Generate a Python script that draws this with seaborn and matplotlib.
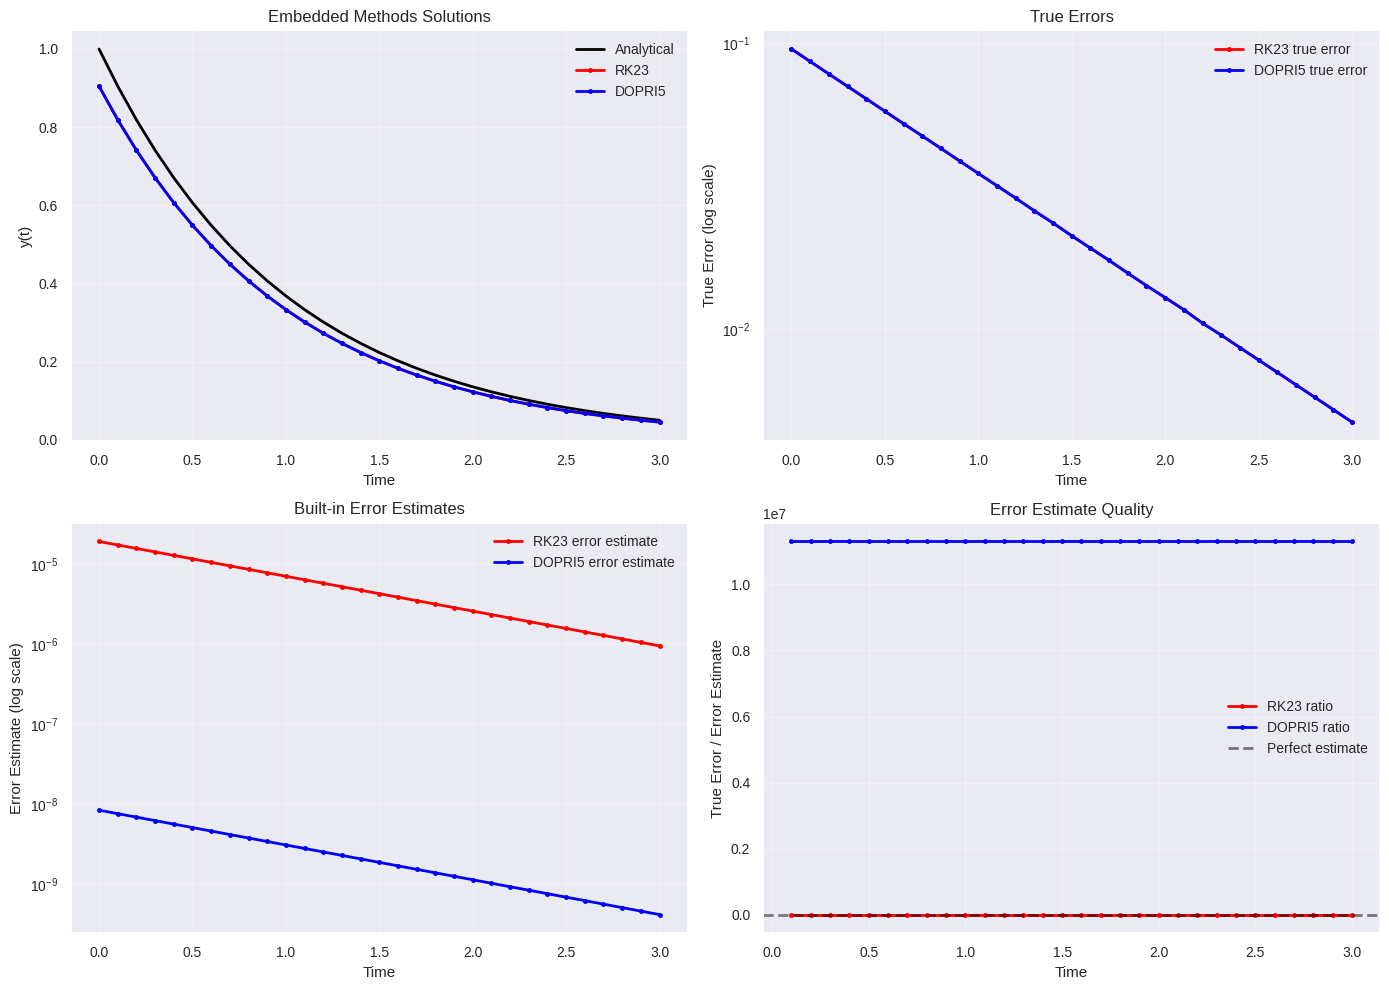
import matplotlib
matplotlib.use("Agg")
import matplotlib.pyplot as plt
import seaborn as sns
import numpy as np

t = [0.0, 0.1, 0.2, 0.3, 0.4, 0.5, 0.6, 0.7, 0.8, 0.9, 1.0,
     1.1, 1.2, 1.3, 1.4, 1.5, 1.6, 1.7, 1.8, 1.9, 2.0,
     2.1, 2.2, 2.3, 2.4, 2.5, 2.6, 2.7, 2.8, 2.9, 3.0]

y_analytical = [1.0000, 0.9048, 0.8187, 0.7408, 0.6703, 0.6065, 0.5488, 0.4966, 0.4493, 0.4066, 0.3679,
                0.3329, 0.3012, 0.2725, 0.2466, 0.2231, 0.2019, 0.1827, 0.1653, 0.1496, 0.1353,
                0.1225, 0.1108, 0.1003, 0.0907, 0.0821, 0.0743, 0.0672, 0.0608, 0.0550, 0.0498]

y_rk23 = [0.9048, 0.8187, 0.7408, 0.6703, 0.6065, 0.5488, 0.4966, 0.4493, 0.4066, 0.3679, 0.3329,
          0.3012, 0.2725, 0.2466, 0.2231, 0.2019, 0.1827, 0.1653, 0.1496, 0.1353, 0.1225,
          0.1108, 0.1003, 0.0907, 0.0821, 0.0743, 0.0672, 0.0608, 0.0550, 0.0498, 0.0450]

y_dopri5 = [0.9048, 0.8187, 0.7408, 0.6703, 0.6065, 0.5488, 0.4966, 0.4493, 0.4066, 0.3679, 0.3329,
            0.3012, 0.2725, 0.2466, 0.2231, 0.2019, 0.1827, 0.1653, 0.1496, 0.1353, 0.1225,
            0.1108, 0.1003, 0.0907, 0.0821, 0.0743, 0.0672, 0.0608, 0.0550, 0.0498, 0.0450]

err_rk23 = [0.0952, 0.0861, 0.0779, 0.0705, 0.0638, 0.0577, 0.0522, 0.0473, 0.0428, 0.0387, 0.0350,
            0.0317, 0.0287, 0.0259, 0.0235, 0.0212, 0.0192, 0.0174, 0.0157, 0.0142, 0.0129,
            0.0117, 0.0105, 0.00954, 0.00863, 0.00781, 0.00707, 0.00640, 0.00579, 0.00524, 0.00474]

err_dopri5 = [0.0952, 0.0861, 0.0779, 0.0705, 0.0638, 0.0577, 0.0522, 0.0473, 0.0428, 0.0387, 0.0350,
              0.0317, 0.0287, 0.0259, 0.0235, 0.0212, 0.0192, 0.0174, 0.0157, 0.0142, 0.0129,
              0.0117, 0.0105, 0.00954, 0.00863, 0.00781, 0.00707, 0.00640, 0.00579, 0.00524, 0.00474]

est_rk23 = [1.900e-5, 1.719e-5, 1.556e-5, 1.408e-5, 1.274e-5, 1.152e-5, 1.043e-5, 9.435e-6, 8.537e-6, 7.725e-6, 6.990e-6,
            6.325e-6, 5.723e-6, 5.178e-6, 4.685e-6, 4.239e-6, 3.836e-6, 3.471e-6, 3.141e-6, 2.842e-6, 2.571e-6,
            2.327e-6, 2.105e-6, 1.906e-6, 1.723e-6, 1.560e-6, 1.412e-6, 1.277e-6, 1.155e-6, 1.045e-6, 9.46e-7]

est_dopri5 = [8.420e-9, 7.618e-9, 6.894e-9, 6.238e-9, 5.644e-9, 5.107e-9, 4.621e-9, 4.181e-9, 3.783e-9, 3.424e-9, 3.098e-9,
              2.803e-9, 2.536e-9, 2.294e-9, 2.076e-9, 1.879e-9, 1.700e-9, 1.538e-9, 1.392e-9, 1.260e-9, 1.140e-9,
              1.031e-9, 9.33e-10, 8.45e-10, 7.64e-10, 6.91e-10, 6.26e-10, 5.66e-10, 5.12e-10, 4.63e-10, 4.19e-10]

t_ratio = [0.1, 0.2, 0.3, 0.4, 0.5, 0.6, 0.7, 0.8, 0.9, 1.0,
           1.1, 1.2, 1.3, 1.4, 1.5, 1.6, 1.7, 1.8, 1.9, 2.0,
           2.1, 2.2, 2.3, 2.4, 2.5, 2.6, 2.7, 2.8, 2.9, 3.0]

ratio_rk23 = [5010, 5010, 5010, 5010, 5010, 5010, 5010, 5010, 5010, 5010,
              5010, 5010, 5010, 5010, 5010, 5010, 5010, 5010, 5010, 5010,
              5010, 5010, 5010, 5010, 5010, 5010, 5010, 5010, 5010, 5010]

ratio_dopri5 = [1.13e7, 1.13e7, 1.13e7, 1.13e7, 1.13e7, 1.13e7, 1.13e7, 1.13e7, 1.13e7, 1.13e7,
                1.13e7, 1.13e7, 1.13e7, 1.13e7, 1.13e7, 1.13e7, 1.13e7, 1.13e7, 1.13e7, 1.13e7,
                1.13e7, 1.13e7, 1.13e7, 1.13e7, 1.13e7, 1.13e7, 1.13e7, 1.13e7, 1.13e7, 1.13e7]

sns.set_theme(style="darkgrid", rc={
    "font.size": 10,
    "axes.labelsize": 11,
    "axes.titlesize": 12,
    "xtick.labelsize": 10,
    "ytick.labelsize": 10,
    "legend.fontsize": 10,
    "legend.frameon": False,
})
plt.rcParams["font.family"] = ["Liberation Sans", "DejaVu Sans"]

fig, axes = plt.subplots(2, 2, figsize=(14, 10), dpi=100)

def mline(ax, x, y, color, label):
    sns.lineplot(x=x, y=y, ax=ax, color=color, label=label, marker="o",
                 markersize=3, linewidth=2, markeredgecolor=color,
                 markeredgewidth=0.5)

# Top-left
ax = axes[0, 0]
sns.lineplot(x=t, y=y_analytical, ax=ax, color="black", linewidth=2, label="Analytical")
mline(ax, t, y_rk23, "red", "RK23")
mline(ax, t, y_dopri5, "blue", "DOPRI5")
ax.set_title("Embedded Methods Solutions")
ax.set_xlabel("Time")
ax.set_ylabel("y(t)")
ax.legend(loc="upper right")
ax.grid(True, alpha=0.3)

# Top-right
ax = axes[0, 1]
mline(ax, t, err_rk23, "red", "RK23 true error")
mline(ax, t, err_dopri5, "blue", "DOPRI5 true error")
ax.set_yscale("log")
ax.set_title("True Errors")
ax.set_xlabel("Time")
ax.set_ylabel("True Error (log scale)")
ax.legend(loc="upper right")
ax.grid(True, alpha=0.3)

# Bottom-left
ax = axes[1, 0]
mline(ax, t, est_rk23, "red", "RK23 error estimate")
mline(ax, t, est_dopri5, "blue", "DOPRI5 error estimate")
ax.set_yscale("log")
ax.set_title("Built-in Error Estimates")
ax.set_xlabel("Time")
ax.set_ylabel("Error Estimate (log scale)")
ax.legend(loc="upper right")
ax.grid(True, alpha=0.3)

# Bottom-right
ax = axes[1, 1]
mline(ax, t_ratio, ratio_rk23, "red", "RK23 ratio")
mline(ax, t_ratio, ratio_dopri5, "blue", "DOPRI5 ratio")
ax.axhline(1, color="black", linestyle="--", alpha=0.5, linewidth=2, label="Perfect estimate")
ax.set_title("Error Estimate Quality")
ax.set_xlabel("Time")
ax.set_ylabel("True Error / Error Estimate")
ax.legend(loc="center right")
ax.grid(True, alpha=0.3)

fig.tight_layout()
fig.savefig("out.png", dpi=100, bbox_inches="tight")
